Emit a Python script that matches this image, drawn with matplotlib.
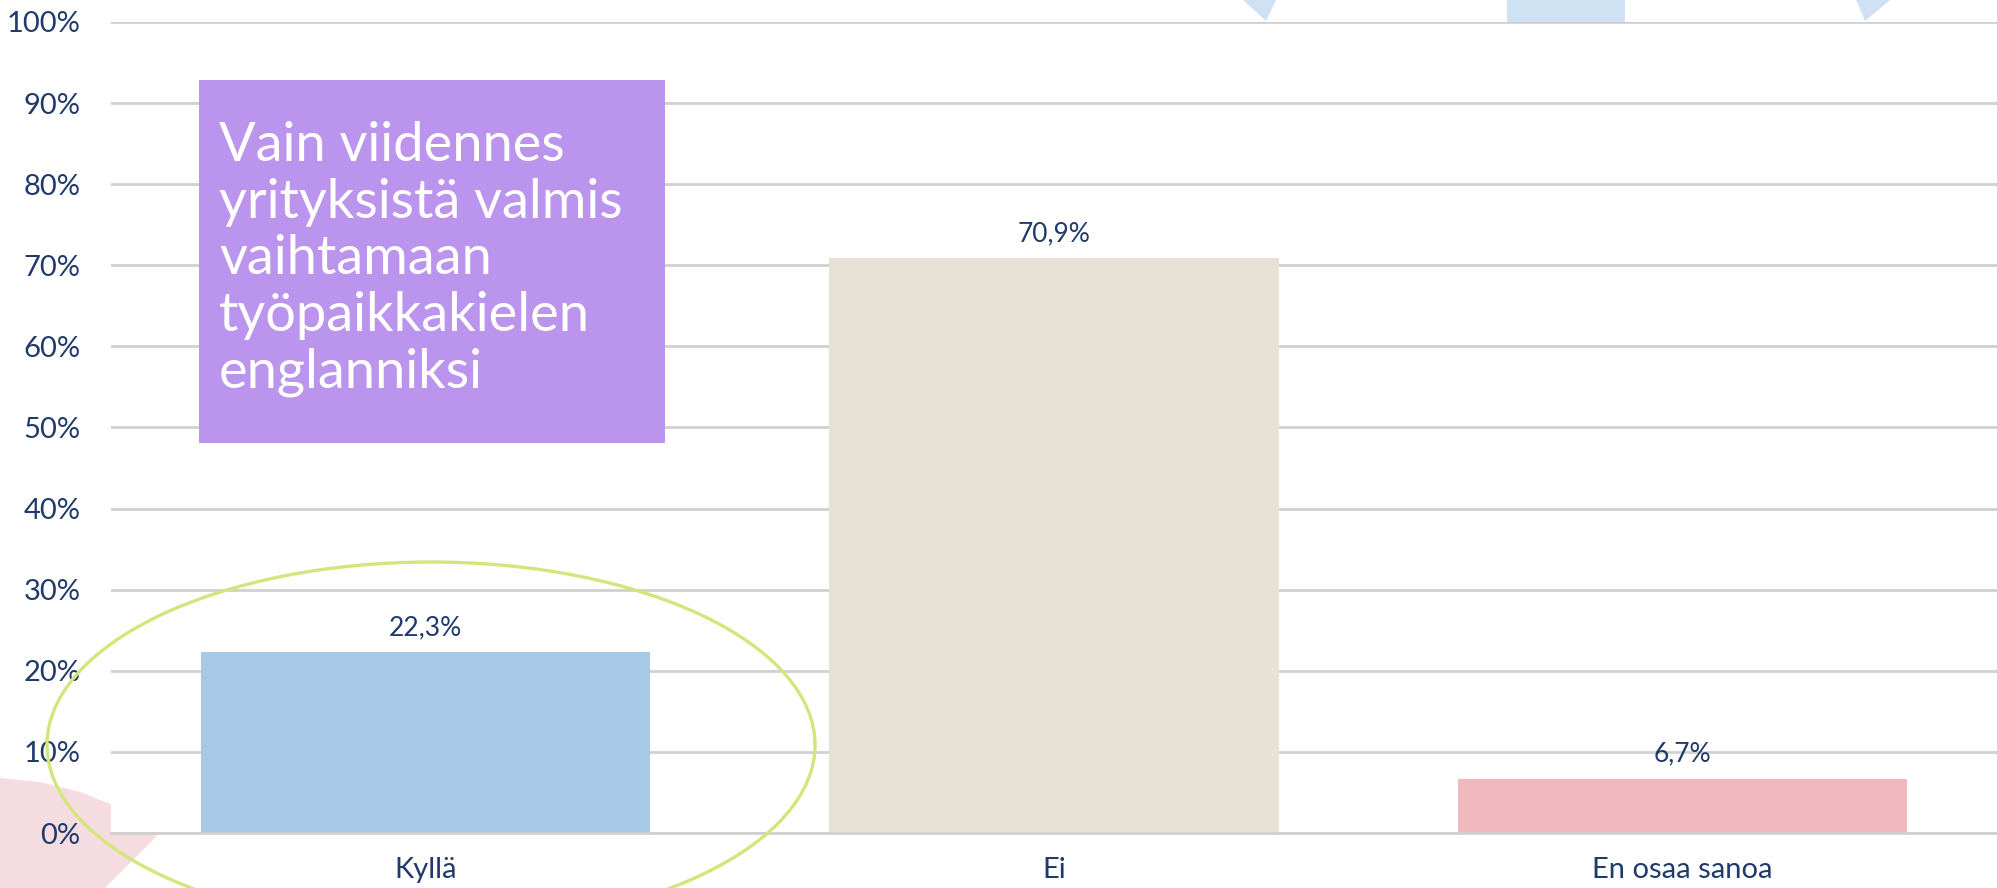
import matplotlib
matplotlib.use("Agg")
import matplotlib.pyplot as plt
from matplotlib.patches import Rectangle, Ellipse, Polygon

plt.rcParams['font.family'] = ['Lato', 'DejaVu Sans']

categories = ["Kyllä", "Ei", "En osaa sanoa"]
values = [22.3, 70.9, 6.7]
value_labels = ["22,3%", "70,9%", "6,7%"]
bar_colors = ["#A8C9E6", "#E7E1D6", "#F2B8BF"]
y_ticks = [0, 10, 20, 30, 40, 50, 60, 70, 80, 90, 100]
y_tick_labels = [f"{t}%" for t in y_ticks]
callout = "Vain viidennes\nyrityksistä valmis\nvaihtamaan\ntyöpaikkakielen\nenglanniksi"

NAVY = "#1F3A6B"
W, H = 1997, 888

fig = plt.figure(figsize=(W / 100, H / 100), dpi=100)
fig.patch.set_facecolor("white")


def fx(px):
    return px / W


def fy(py):
    return 1 - py / H


# background decorations (sit behind the plotting area)
deco_blue = "#CFE2F3"
fig.patches.append(Rectangle((fx(1507), fy(22)), fx(1625) - fx(1507), fy(0) - fy(22),
                             transform=fig.transFigure, facecolor=deco_blue,
                             edgecolor="none", zorder=-2))
fig.patches.append(Polygon([(fx(1243), fy(0)), (fx(1276), fy(0)), (fx(1266), fy(21))],
                           closed=True, transform=fig.transFigure, facecolor=deco_blue,
                           edgecolor="none", zorder=-2))
fig.patches.append(Polygon([(fx(1856), fy(0)), (fx(1890), fy(0)), (fx(1865), fy(21))],
                           closed=True, transform=fig.transFigure, facecolor=deco_blue,
                           edgecolor="none", zorder=-2))
pink_pts = [(0, 778), (40, 782), (80, 792), (120, 808), (157, 836), (105, 888), (0, 888)]
fig.patches.append(Polygon([(fx(x), fy(y)) for x, y in pink_pts], closed=True,
                           transform=fig.transFigure, facecolor="#F5DCE1",
                           edgecolor="none", zorder=-2))

ax = fig.add_axes([fx(111), fy(833), 1 - fx(111), fy(22) - fy(833)])
ax.set_facecolor("white")
ax.set_zorder(0)

x = range(len(categories))
ax.bar(x, values, width=0.715, color=bar_colors, zorder=2)
for xi, v, lab in zip(x, values, value_labels):
    ax.text(xi, v + 1.5, lab, ha="center", va="bottom", fontsize=19, color=NAVY, zorder=3)

ax.set_xlim(-0.5, 2.5)
ax.set_ylim(0, 100)
ax.set_yticks(y_ticks)
ax.set_yticklabels(y_tick_labels)
ax.set_xticks(list(x))
ax.set_xticklabels(categories)
ax.tick_params(axis="y", length=0, pad=22, labelsize=21, labelcolor=NAVY)
ax.tick_params(axis="x", length=0, pad=17, labelsize=21, labelcolor=NAVY)
ax.grid(axis="y", color="#D0D0D0", linewidth=2, zorder=0)
ax.set_axisbelow(True)
for side in ["top", "right", "left"]:
    ax.spines[side].set_visible(False)
ax.spines["bottom"].set_color("#D0D0D0")
ax.spines["bottom"].set_linewidth(2)

# callout box
fig.patches.append(Rectangle((fx(199), fy(443)), fx(665) - fx(199), fy(80) - fy(443),
                             transform=fig.transFigure, facecolor="#BB94EE",
                             edgecolor="none", zorder=3))
fig.text(fx(219), fy(121), callout, ha="left", va="top", fontsize=39,
         color="white", fontweight="normal", linespacing=1.19, zorder=4)

# highlight ring around the first bar
fig.patches.append(Ellipse((fx(431), fy(745)), fx(768), 366 / H,
                           transform=fig.transFigure, facecolor="none",
                           edgecolor="#D4E57C", linewidth=2.4, zorder=5))

fig.savefig("out.png", dpi=100, facecolor="white")
